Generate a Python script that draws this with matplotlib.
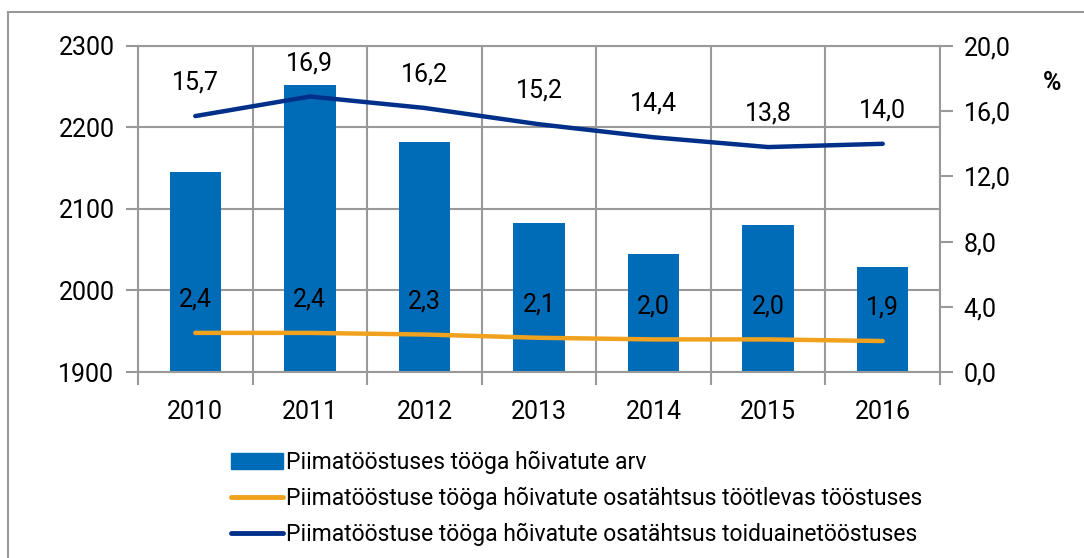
import numpy as np
import matplotlib.pyplot as plt
from matplotlib.patches import Rectangle
from matplotlib.lines import Line2D

years = ["2010", "2011", "2012", "2013", "2014", "2015", "2016"]
employed = [2146, 2252, 2182, 2083, 2045, 2080, 2029]
share_manufacturing = [2.4, 2.4, 2.3, 2.1, 2.0, 2.0, 1.9]
share_food = [15.7, 16.9, 16.2, 15.2, 14.4, 13.8, 14.0]

legend_labels = [
    "Piimatööstuses tööga hõivatute arv",
    "Piimatööstuse tööga hõivatute osatähtsus töötlevas tööstuses",
    "Piimatööstuse tööga hõivatute osatähtsus toiduainetööstuses",
]

BAR = "#006BB6"
ORANGE = "#F0A21E"
NAVY = "#00308A"
GRID = "#999999"

plt.rcParams["font.family"] = ["Roboto", "DejaVu Sans"]

fig = plt.figure(figsize=(10.84, 5.58), dpi=100)
fig.patches.append(Rectangle((8 / 1084, -0.05), 1.1, 1 - 12 / 558 + 0.05,
                             transform=fig.transFigure, fill=False,
                             edgecolor=GRID, lw=1.5))

ax = fig.add_axes([138 / 1084, 1 - 372 / 558, 802 / 1084, 326 / 558])
x = np.arange(len(years))
ax.bar(x, employed, width=0.45, color=BAR, zorder=2)
ax.set_xlim(-0.5, len(years) - 0.5)
ax.set_ylim(1900, 2300)
ax.set_yticks([1900, 2000, 2100, 2200, 2300])
ax.set_xticks(x, years)
ax.set_xticks(np.arange(-0.5, len(years)), minor=True)
ax.tick_params(axis="x", which="major", length=0, pad=20, labelsize=18)
ax.tick_params(axis="x", which="minor", length=9, width=1.5, color=GRID)
ax.tick_params(axis="y", length=9, width=1.5, color=GRID, labelsize=18, pad=8)
ax.grid(True, which="minor", axis="x", color=GRID, lw=1.5, zorder=0)
ax.grid(True, which="major", axis="y", color=GRID, lw=1.5, zorder=0)
for s in ax.spines.values():
    s.set_color(GRID)
    s.set_linewidth(1.5)
ax.set_axisbelow(True)

ax2 = ax.twinx()
ax2.set_ylim(0, 20)
ax2.set_yticks(np.arange(0, 21, 4), [f"{v:.1f}".replace(".", ",") for v in np.arange(0, 21, 4)])
ax2.tick_params(axis="y", length=9, width=1.5, color=GRID, labelsize=18, pad=8)
for s in ax2.spines.values():
    s.set_visible(False)
ax2.plot(x, share_manufacturing, color=ORANGE, lw=3.2, solid_capstyle="round", zorder=3)
ax2.plot(x, share_food, color=NAVY, lw=3.2, solid_capstyle="round", zorder=3)
for xi, v in zip(x, share_manufacturing):
    ax2.annotate(f"{v:.1f}".replace(".", ","), (xi, v), xytext=(0, 24),
                 textcoords="offset points", ha="center", va="center", fontsize=18)
for xi, v in zip(x, share_food):
    ax2.annotate(f"{v:.1f}".replace(".", ","), (xi, v), xytext=(0, 24),
                 textcoords="offset points", ha="center", va="center", fontsize=18)

fig.text(1052 / 1084, 1 - 83 / 558, "%", ha="center", va="center",
         fontsize=18, fontweight="bold")

handles = [
    Rectangle((0, 0), 1, 1, color=BAR),
    Line2D([], [], color=ORANGE, lw=3.5, solid_capstyle="round"),
    Line2D([], [], color=NAVY, lw=3.5, solid_capstyle="round"),
]
fig.legend(handles, legend_labels, loc="upper left",
           bbox_to_anchor=(231 / 1084, 1 - 451 / 558), frameon=False,
           fontsize=16.5, handlelength=2.25, handletextpad=0.15,
           labelspacing=0.55, borderpad=0, borderaxespad=0)

fig.savefig("out.png", dpi=100)
plt.close(fig)
